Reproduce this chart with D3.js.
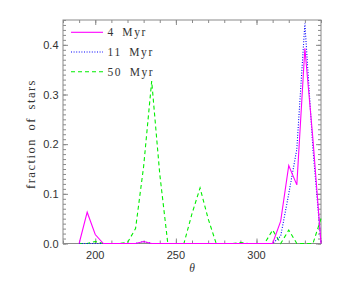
<!DOCTYPE html>
<html>
<head>
<meta charset="utf-8">
<script src="https://cdn.jsdelivr.net/npm/d3@7"></script>
<style>
  body { margin: 0; background: #fff; }
  .tickLabel { font-family: "Liberation Sans", Arial, sans-serif; font-size: 11px; fill: #333; }
  .axisText { font-family: "Liberation Serif", "DejaVu Serif", serif; font-size: 11.5px; fill: #333; }
</style>
</head>
<body>
<div id="chart"></div>
<script>
// data (5 degree bins)
var theta = [190, 195, 200, 205, 210, 215, 220, 225, 230, 235, 240, 245, 250, 255, 260,
  265, 270, 275, 280, 285, 290, 295, 300, 305, 310, 315, 320, 325, 330, 335, 340];

var myr4 = [0, 0.063, 0.018, 0, 0, 0, 0, 0, 0.004, 0, 0, 0, 0, 0, 0,
  0, 0, 0, 0, 0, 0, 0, 0, 0, 0, 0.045, 0.157, 0.118, 0.393, 0.21, 0];

var myr11 = [0, 0, 0, 0, 0, 0, 0, 0, 0.004, 0, 0, 0, 0, 0, 0,
  0, 0, 0, 0, 0, 0, 0, 0, 0, 0, 0.015, 0.1, 0.19, 0.443, 0.19, 0];

var myr50 = [0, 0, 0.004, 0, 0, 0, 0.002, 0.03, 0.155, 0.327, 0.14, 0, 0, 0, 0.06,
  0.112, 0.05, 0, 0, 0, 0.002, 0, 0, 0, 0.027, 0, 0.027, 0, 0, 0, 0.05];

var seriesNames = ["4 Myr", "11 Myr", "50 Myr"];
var xTicks = [200, 250, 300];
var yTicks = [0.0, 0.1, 0.2, 0.3, 0.4];

var svgWidth = 340;
var svgHeight = 284;
var margin = { top: 20, right: 19, bottom: 40.5, left: 63 };
var width = svgWidth - margin.left - margin.right;
var height = svgHeight - margin.top - margin.bottom;

var svg = d3.select("#chart")
  .append("svg")
  .attr("width", svgWidth)
  .attr("height", svgHeight);

var chartGroup = svg.append("g")
  .attr("transform", `translate(${margin.left}, ${margin.top})`);

// scales
// ==============================
var xScale = d3.scaleLinear().domain([180, 340]).range([0, width]);
var yScale = d3.scaleLinear().domain([0, 0.45]).range([height, 0]);

var frameColor = "#8a8a8a";

// axes on all four sides, ticks pointing in (IDL style)
// ==============================
function styleAxis(g) {
  g.select(".domain").remove();
  g.selectAll("line").attr("stroke", frameColor);
  g.selectAll("text").remove();
}

var xMinor = d3.range(180, 341, 10);
var yMinor = d3.range(0, 46).map(d => d / 100);

chartGroup.append("g").attr("transform", `translate(0, ${height})`)
  .call(d3.axisBottom(xScale).tickValues(xMinor).tickSizeInner(-3).tickSizeOuter(0)).call(styleAxis);
chartGroup.append("g").attr("transform", `translate(0, ${height})`)
  .call(d3.axisBottom(xScale).tickValues(xTicks).tickSizeInner(-5).tickSizeOuter(0)).call(styleAxis);
chartGroup.append("g")
  .call(d3.axisTop(xScale).tickValues(xMinor).tickSizeInner(-3).tickSizeOuter(0)).call(styleAxis);
chartGroup.append("g")
  .call(d3.axisTop(xScale).tickValues(xTicks).tickSizeInner(-5).tickSizeOuter(0)).call(styleAxis);

chartGroup.append("g")
  .call(d3.axisLeft(yScale).tickValues(yMinor).tickSizeInner(-3).tickSizeOuter(0)).call(styleAxis);
chartGroup.append("g")
  .call(d3.axisLeft(yScale).tickValues(yTicks).tickSizeInner(-5).tickSizeOuter(0)).call(styleAxis);
chartGroup.append("g").attr("transform", `translate(${width}, 0)`)
  .call(d3.axisRight(yScale).tickValues(yMinor).tickSizeInner(-3).tickSizeOuter(0)).call(styleAxis);
chartGroup.append("g").attr("transform", `translate(${width}, 0)`)
  .call(d3.axisRight(yScale).tickValues(yTicks).tickSizeInner(-5).tickSizeOuter(0)).call(styleAxis);

chartGroup.append("rect")
  .attr("width", width)
  .attr("height", height)
  .attr("fill", "none")
  .attr("stroke", frameColor)
  .attr("stroke-width", 1);

// tick labels
chartGroup.selectAll(".xLabel")
  .data(xTicks)
  .enter()
  .append("text")
  .attr("class", "tickLabel")
  .attr("x", d => xScale(d))
  .attr("y", height + 15.5)
  .attr("text-anchor", "middle")
  .text(d => d);

chartGroup.selectAll(".yLabel")
  .data(yTicks)
  .enter()
  .append("text")
  .attr("class", "tickLabel")
  .attr("x", -4.5)
  .attr("y", d => yScale(d) + 4)
  .attr("text-anchor", "end")
  .text(d => d3.format(".1f")(d));

// lines
// ==============================
var line = d3.line()
  .x((d, i) => xScale(theta[i]))
  .y(d => yScale(d));

var series = [
  { values: myr4, color: "#ff00ff", dash: null },
  { values: myr11, color: "#0000ff", dash: "1,1.6" },
  { values: myr50, color: "#00ee00", dash: "4,3" }
];

// draw 50 Myr first so the others sit on top
series.slice().reverse().forEach(function(s) {
  chartGroup.append("path")
    .attr("d", line(s.values))
    .attr("fill", "none")
    .attr("stroke", s.color)
    .attr("stroke-width", 1.1)
    .attr("stroke-dasharray", s.dash);
});

// legend
// ==============================
var legend = chartGroup.selectAll(".legend")
  .data(series)
  .enter()
  .append("g")
  .attr("transform", (d, i) => `translate(8, ${12.3 + i * 19.7})`);

legend.append("line")
  .attr("x1", 0)
  .attr("x2", 32)
  .attr("stroke", d => d.color)
  .attr("stroke-width", 1.1)
  .attr("stroke-dasharray", d => d.dash);

legend.append("text")
  .attr("class", "axisText")
  .attr("x", 36.5)
  .attr("y", 3.8)
  .style("letter-spacing", "1.6px")
  .style("word-spacing", "3px")
  .text((d, i) => seriesNames[i]);

// axis titles
svg.append("text")
  .attr("class", "axisText")
  .attr("transform", `translate(35, ${134}) rotate(-90)`)
  .attr("text-anchor", "middle")
  .style("font-size", "12.5px")
  .style("letter-spacing", "1.5px")
  .style("word-spacing", "3px")
  .text("fraction of stars");

svg.append("text")
  .attr("class", "axisText")
  .attr("x", margin.left + width / 2)
  .attr("y", 272)
  .attr("text-anchor", "middle")
  .style("font-style", "italic")
  .style("font-size", "11.5px")
  .text("θ");
</script>
</body>
</html>
